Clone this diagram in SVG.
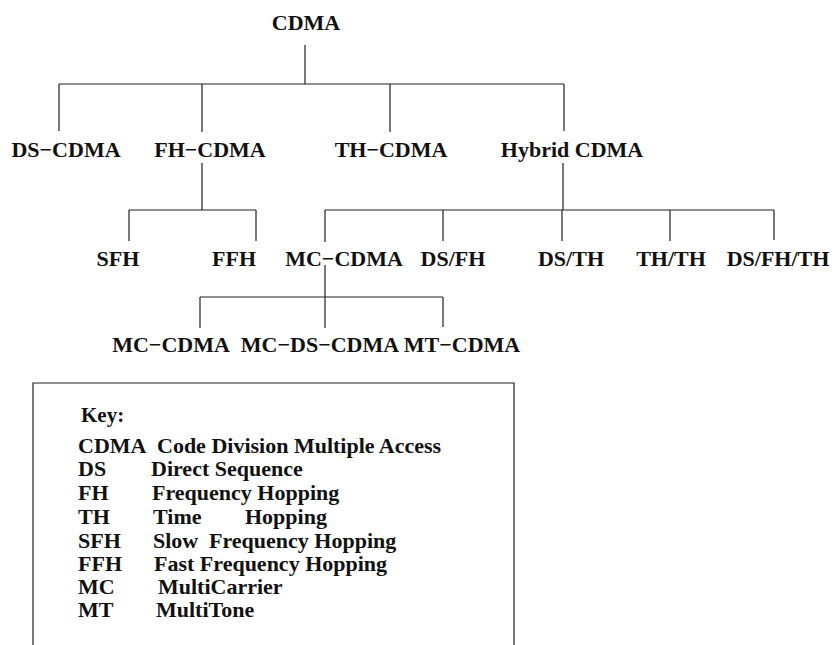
<svg xmlns="http://www.w3.org/2000/svg" width="835" height="645" viewBox="0 0 835 645">
<style>
.n{font-family:"Liberation Serif","Times New Roman",serif;font-weight:bold;font-size:22px;fill:#111;text-anchor:middle}
.k{font-family:"Liberation Serif","Times New Roman",serif;font-weight:bold;font-size:22px;fill:#111}
.h{font-size:21px}
.c{stroke:#222;stroke-width:1.2;fill:none}
</style>
<rect width="835" height="645" fill="#fff"/>
<g id="connectors" class="c">
<path d="M305 45V84M59 84H564M59 84V131M202 84V132M390 84V132M564 84V131"/>
<path d="M202 163V210M129 210H256M129 210V241M256 210V241"/>
<path d="M563 163V210M325 210H774M325 210V242M443 210V241M562 210V241M670 210V241M774 210V240"/>
<path d="M325 265V328M200 297H443M200 297V328M443 297V327"/>
</g>
<g id="n-cdma"><text class="n" x="306" y="30">CDMA</text></g>
<g id="n-ds-cdma"><text class="n" x="66" y="157">DS−CDMA</text></g>
<g id="n-fh-cdma"><text class="n" x="210" y="157">FH−CDMA</text></g>
<g id="n-th-cdma"><text class="n" x="391" y="157">TH−CDMA</text></g>
<g id="n-hybrid"><text class="n" x="572" y="157">Hybrid CDMA</text></g>
<g id="n-sfh"><text class="n" x="118" y="266">SFH</text></g>
<g id="n-ffh"><text class="n" x="234" y="266">FFH</text></g>
<g id="n-mc-cdma"><text class="n" x="344" y="266">MC−CDMA</text></g>
<g id="n-dsfh"><text class="n" x="453" y="266">DS/FH</text></g>
<g id="n-dsth"><text class="n" x="571" y="266">DS/TH</text></g>
<g id="n-thth"><text class="n" x="671" y="266">TH/TH</text></g>
<g id="n-dsfhth"><text class="n" x="778" y="266">DS/FH/TH</text></g>
<g id="n-mc-cdma2"><text class="n" x="171" y="352">MC−CDMA</text></g>
<g id="n-mc-ds-cdma"><text class="n" x="320" y="352">MC−DS−CDMA</text></g>
<g id="n-mt-cdma"><text class="n" x="462" y="352">MT−CDMA</text></g>
<g id="key">
<path class="c" d="M33 645V383H514V645"/>
<text class="k h" x="81" y="422">Key:</text>
<text class="k" x="78" y="453">CDMA</text><text class="k" x="157" y="453">Code Division Multiple Access</text>
<text class="k" x="78" y="476">DS</text><text class="k" x="151" y="476">Direct Sequence</text>
<text class="k" x="78" y="500">FH</text><text class="k" x="152" y="500">Frequency Hopping</text>
<text class="k" x="78" y="524">TH</text><text class="k" x="153" y="524">Time</text><text class="k" x="245" y="524">Hopping</text>
<text class="k" x="78" y="548">SFH</text><text class="k" x="153" y="548">Slow</text><text class="k" x="209" y="548">Frequency Hopping</text>
<text class="k" x="78" y="571">FFH</text><text class="k" x="154" y="571">Fast Frequency Hopping</text>
<text class="k" x="78" y="594">MC</text><text class="k" x="158" y="594">MultiCarrier</text>
<text class="k" x="78" y="617">MT</text><text class="k" x="156" y="617">MultiTone</text>
</g>
</svg>
